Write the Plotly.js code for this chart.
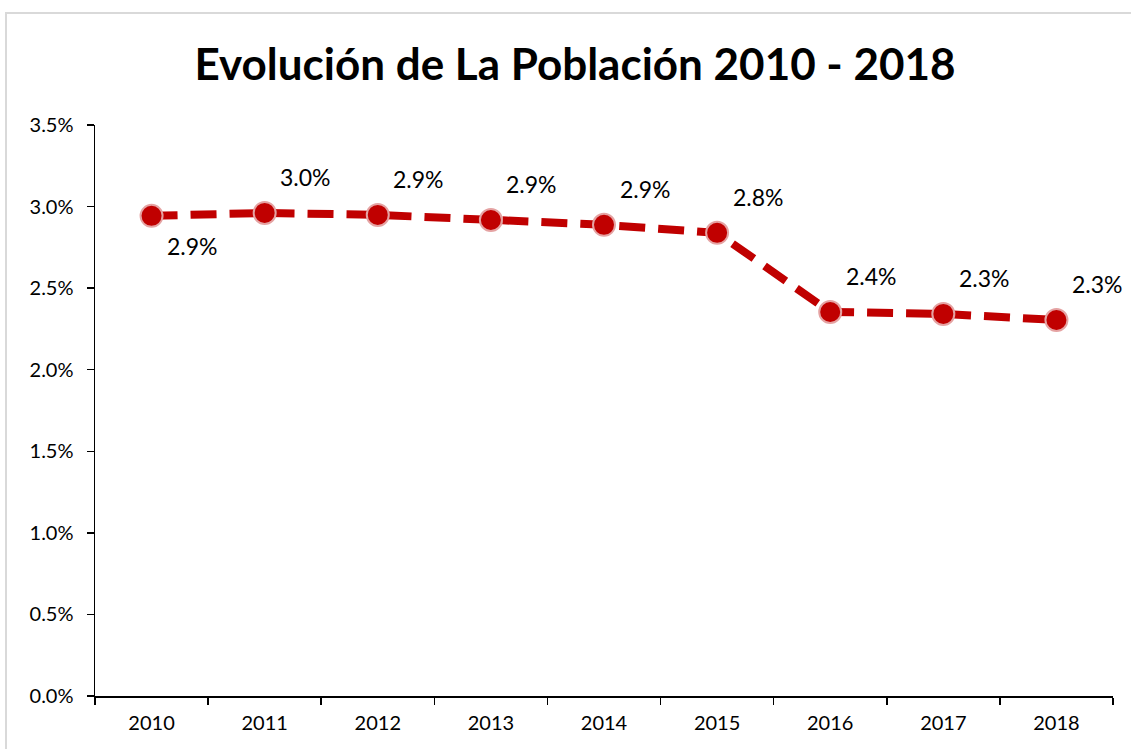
<!DOCTYPE html>
<html>
<head>
<meta charset="utf-8">
<script src="https://cdn.plot.ly/plotly-3.0.1.min.js"></script>
<style>
  html, body { margin: 0; padding: 0; background: #fff; overflow: hidden; }
  #chart { position: absolute; left: 0; top: 0; width: 1131px; height: 749px; }
  #frame { position: absolute; left: 5px; top: 12px; width: 1200px; height: 800px;
           border: 2px solid #d9d9d9; pointer-events: none; box-sizing: border-box; }
</style>
</head>
<body>
<div id="chart"></div>
<div id="frame"></div>
<script>
const years = ['2010', '2011', '2012', '2013', '2014', '2015', '2016', '2017', '2018'];
const growth = [0.02943, 0.02961, 0.02949, 0.02918, 0.02888, 0.02839, 0.02354, 0.02342, 0.02305];
const labels = ['2.9%', '3.0%', '2.9%', '2.9%', '2.9%', '2.8%', '2.4%', '2.3%', '2.3%'];
const yTicks = [0, 0.005, 0.01, 0.015, 0.02, 0.025, 0.03, 0.035];
const yTickText = ['0.0%', '0.5%', '1.0%', '1.5%', '2.0%', '2.5%', '3.0%', '3.5%'];

const fontFam = 'Lato, "Open Sans", sans-serif';

const trace = {
  x: years,
  y: growth,
  type: 'scatter',
  mode: 'lines+markers',
  line: { color: '#C00000', width: 8, dash: '26px,13px' },
  marker: { color: '#C00000', size: 22, line: { color: '#E5A3A3', width: 2 } },
  hoverinfo: 'skip'
};

const annotations = years.map((yr, i) => ({
  x: i,
  y: growth[i],
  text: labels[i],
  showarrow: false,
  xref: 'x',
  yref: 'y',
  xshift: 41,
  yshift: i === 0 ? -30 : 36,
  font: { family: fontFam, size: 23, color: '#000' }
}));

const layout = {
  width: 1131,
  height: 749,
  margin: { l: 95, r: 18, t: 125, b: 53 },
  paper_bgcolor: '#fff',
  plot_bgcolor: '#fff',
  showlegend: false,
  title: {
    text: '<b>Evolución de La Población 2010 - 2018</b>',
    font: { family: fontFam, size: 44, color: '#000' },
    x: 575 / 1131,
    xref: 'container',
    xanchor: 'center',
    y: 1 - 65 / 749,
    yref: 'container',
    yanchor: 'middle'
  },
  xaxis: {
    type: 'category',
    categoryorder: 'array',
    categoryarray: years,
    range: [-0.5, years.length - 0.5],
    showline: true,
    linecolor: '#000',
    linewidth: 1.5,
    showgrid: false,
    zeroline: false,
    ticks: 'outside',
    tickson: 'boundaries',
    ticklen: 7,
    tickwidth: 1.5,
    tickcolor: '#000',
    ticklabelstandoff: 8,
    tickfont: { family: fontFam, size: 20, color: '#000' },
    fixedrange: true
  },
  yaxis: {
    range: [0, 0.035],
    tickvals: yTicks,
    ticktext: yTickText,
    showline: true,
    linecolor: '#000',
    linewidth: 1.5,
    showgrid: false,
    zeroline: false,
    ticks: 'outside',
    ticklen: 7,
    tickwidth: 1.5,
    tickcolor: '#000',
    ticklabelstandoff: 9,
    tickfont: { family: fontFam, size: 20, color: '#000' },
    fixedrange: true
  },
  annotations: annotations
};

Plotly.newPlot('chart', [trace], layout, { displayModeBar: false, staticPlot: true });
</script>
</body>
</html>
